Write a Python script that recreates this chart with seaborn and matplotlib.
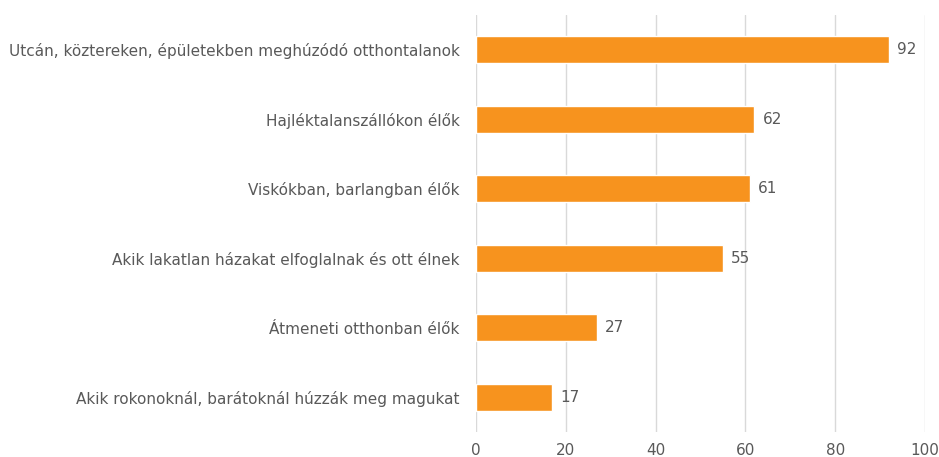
import numpy as np
import pandas as pd
import matplotlib
matplotlib.use("Agg")
import matplotlib.pyplot as plt
import seaborn as sns

categories = [
    "Utcán, köztereken, épületekben meghúzódó otthontalanok",
    "Hajléktalanszállókon élők",
    "Viskókban, barlangban élők",
    "Akik lakatlan házakat elfoglalnak és ott élnek",
    "Átmeneti otthonban élők",
    "Akik rokonoknál, barátoknál húzzák meg magukat",
]
values = [92, 62, 61, 55, 27, 17]
x_ticks = [0, 20, 40, 60, 80, 100]

df = pd.DataFrame({"category": categories, "value": values})

sns.set_style("white")
plt.rcParams["font.family"] = "sans-serif"
plt.rcParams["font.sans-serif"] = ["DejaVu Sans"]
text_color = "#595959"

fig = plt.figure(figsize=(9.39, 4.57), dpi=100)
ax = fig.add_axes([0.507, 0.055, 0.478, 0.912])

sns.barplot(data=df, x="value", y="category", color="#F7931E", width=0.39,
            saturation=1, ax=ax, zorder=3)

for i, v in enumerate(values):
    ax.text(v + 1.8, i, str(v), va="center", ha="left", fontsize=11, color=text_color)

ax.set_xlim(0, 100)
ax.set_xticks(x_ticks)
ax.grid(axis="x", color="#D9D9D9", linewidth=1, zorder=0)
ax.set_axisbelow(True)
ax.set_xlabel("")
ax.set_ylabel("")
for s in ax.spines.values():
    s.set_visible(False)
ax.tick_params(axis="both", length=0, labelsize=11, colors=text_color)
ax.tick_params(axis="y", pad=12)
ax.tick_params(axis="x", pad=8)

fig.savefig("out.png", dpi=100)
